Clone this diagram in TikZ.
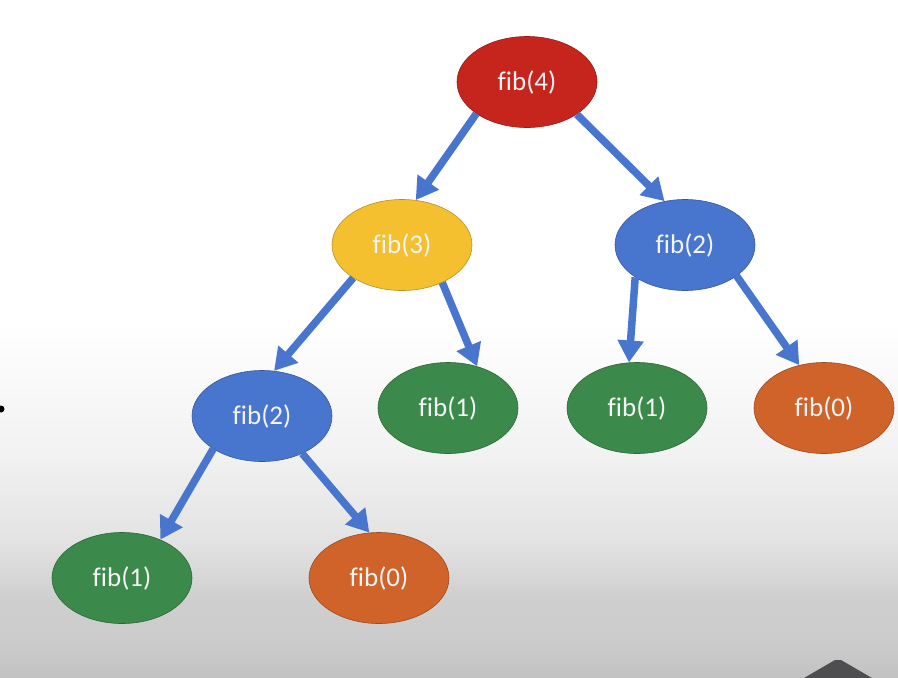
\documentclass[tikz,border=0pt]{standalone}
\usepackage{fontspec}
\setmainfont{Carlito}[Ligatures=NoCommon]
\usetikzlibrary{shapes.geometric,arrows.meta}
\definecolor{cred}{HTML}{C6251D}
\definecolor{cyellow}{HTML}{F4C030}
\definecolor{cblue}{HTML}{4876CF}
\definecolor{cgreen}{HTML}{3B8A4B}
\definecolor{corange}{HTML}{D0632A}
\definecolor{cdark}{HTML}{4E4D50}
\pgfdeclareverticalshading{bgshade}{100bp}{
  color(0bp)=(black!24);
  color(25bp)=(black!24);
  color(30.5bp)=(black!20);
  color(36bp)=(black!19);
  color(44.5bp)=(black!11);
  color(57bp)=(black!5);
  color(75bp)=(white);
  color(100bp)=(white)}
\tikzset{
  fibnode/.style={ellipse, minimum width=140pt, minimum height=91pt, inner sep=0pt,
    text=white!96!black, font=\fontsize{27}{30}\selectfont, draw=#1!75!black, line width=0.6pt, fill=#1},
  edge/.style={draw=cblue, line width=7.5pt, -{Triangle[length=22pt,width=25pt]}}
}
\begin{document}
\begin{tikzpicture}[x=1pt,y=-1pt]
\useasboundingbox (0,0) rectangle (898,678);
\fill[white] (0,0) rectangle (898,323);
\shade[shading=bgshade] (0,322) rectangle (898,678);
\fill[black] (1,409) circle (3.5);
\fill[cdark] (804,678) -- (835,660) -- (841,660) -- (872,678) -- cycle;

\node[fibnode=cred] (f4) at (527,82) {fib(4)};
\node[fibnode=cyellow] (f3) at (402,245) {fib(3)};
\node[fibnode=cblue] (f2r) at (685,245) {fib(2)};
\node[fibnode=cblue] (f2l) at (262,416) {fib(2)};
\node[fibnode=cgreen] (f1m) at (448,408) {fib(1)};
\node[fibnode=cgreen] (f1r) at (637,408) {fib(1)};
\node[fibnode=corange] (f0r) at (824,408) {fib(0)};
\node[fibnode=cgreen] (f1b) at (122,578) {fib(1)};
\node[fibnode=corange] (f0b) at (379,578) {fib(0)};

\draw[edge] (f4.212) -- (f3.73);
\draw[edge] (f4.327) -- (f2r.115);
\draw[edge] (f3.214) -- (f2l.75);
\draw[edge] (f3.317) -- (f1m.55);
\draw[edge] (f2r.213) -- (f1r.100);
\draw[edge] (f2r.329) -- (f0r.120);
\draw[edge] (f2l.214) -- (f1b.45);
\draw[edge] (f2l.317) -- (f0b.102);
\end{tikzpicture}
\end{document}
